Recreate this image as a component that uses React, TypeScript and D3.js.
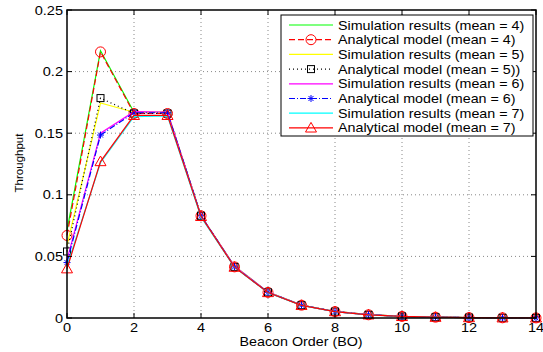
import React, { useEffect, useRef } from 'react';
import * as d3 from 'd3';

// Beacon order values on the x axis
const beaconOrders = [0, 1, 2, 3, 4, 5, 6, 7, 8, 9, 10, 11, 12, 13, 14];
const xTicks = [0, 2, 4, 6, 8, 10, 12, 14];
const yTicks = [0, 0.05, 0.1, 0.15, 0.2, 0.25];

// throughput per series
const sim4 = [0.071, 0.217, 0.167, 0.167, 0.083, 0.042, 0.021, 0.0105, 0.0053, 0.0027, 0.0013, 0.0007, 0.0003, 0.00017, 0.00008];
const ana4 = [0.067, 0.216, 0.166, 0.166, 0.083, 0.0415, 0.0208, 0.0104, 0.0052, 0.0026, 0.0013, 0.00065, 0.00033, 0.00016, 0.00008];
const sim5 = [0.059, 0.1745, 0.167, 0.167, 0.083, 0.042, 0.021, 0.0105, 0.0053, 0.0027, 0.0013, 0.0007, 0.0003, 0.00017, 0.00008];
const ana5 = [0.054, 0.1785, 0.166, 0.166, 0.083, 0.0415, 0.0208, 0.0104, 0.0052, 0.0026, 0.0013, 0.00065, 0.00033, 0.00016, 0.00008];
const sim6 = [0.047, 0.15, 0.1675, 0.1672, 0.083, 0.042, 0.021, 0.0105, 0.0053, 0.0027, 0.0013, 0.0007, 0.0003, 0.00017, 0.00008];
const ana6 = [0.045, 0.1485, 0.1666, 0.1666, 0.083, 0.0415, 0.0208, 0.0104, 0.0052, 0.0026, 0.0013, 0.00065, 0.00033, 0.00016, 0.00008];
const sim7 = [0.042, 0.126, 0.1635, 0.164, 0.082, 0.0412, 0.0206, 0.0103, 0.0052, 0.0026, 0.0013, 0.00065, 0.00033, 0.00016, 0.00008];
const ana7 = [0.04, 0.127, 0.1645, 0.1645, 0.0825, 0.0413, 0.0207, 0.0103, 0.0052, 0.0026, 0.0013, 0.00065, 0.00033, 0.00016, 0.00008];

const seriesLabels = [
  'Simulation results (mean = 4)',
  'Analytical model (mean = 4)',
  'Simulation results (mean = 5)',
  'Analytical model (mean = 5))',
  'Simulation results (mean = 6)',
  'Analytical model (mean = 6)',
  'Simulation results (mean = 7)',
  'Analytical model (mean = 7)',
];

const series = [
  { values: sim4, color: '#00ff00', dash: null, marker: null },
  { values: ana4, color: '#ff0000', dash: '6,3', marker: 'circle' },
  { values: sim5, color: '#ffff00', dash: null, marker: null },
  { values: ana5, color: '#000000', dash: '1,3', marker: 'square' },
  { values: sim6, color: '#ff00ff', dash: null, marker: null },
  { values: ana6, color: '#0000ff', dash: '6,2,1,2', marker: 'star' },
  { values: sim7, color: '#00ffff', dash: null, marker: null },
  { values: ana7, color: '#ff0000', dash: null, marker: 'triangle' },
];

const FONT = 'Liberation Sans, Arial, sans-serif';

function drawMarker(g, kind, x, y, color) {
  if (kind === 'circle') {
    g.append('circle').attr('cx', x).attr('cy', y).attr('r', 5)
      .attr('fill', 'none').attr('stroke', color).attr('stroke-width', 1);
  } else if (kind === 'square') {
    g.append('rect').attr('x', x - 3.5).attr('y', y - 3.5).attr('width', 7).attr('height', 7)
      .attr('fill', 'none').attr('stroke', color).attr('stroke-width', 1);
  } else if (kind === 'star') {
    const r = 3.5, d = r * 0.72;
    g.append('path')
      .attr('d', `M${x - r},${y}H${x + r}M${x},${y - r}V${y + r}M${x - d},${y - d}L${x + d},${y + d}M${x - d},${y + d}L${x + d},${y - d}`)
      .attr('stroke', color).attr('stroke-width', 1).attr('fill', 'none');
  } else if (kind === 'triangle') {
    const s = 5.5;
    g.append('path')
      .attr('d', `M${x},${y - s}L${x + s},${y + s * 0.75}L${x - s},${y + s * 0.75}Z`)
      .attr('fill', 'none').attr('stroke', color).attr('stroke-width', 1);
  }
}

const App = () => {
  const svgRef = useRef();

  useEffect(() => {
    document.body.style.margin = '0';
    const svg = d3.select(svgRef.current);
    svg.selectAll('*').remove();

    const left = 67, right = 536, top = 10, bottom = 318;

    const xScale = d3.scaleLinear().domain([0, 14]).range([left, right]);
    const yScale = d3.scaleLinear().domain([0, 0.25]).range([bottom, top]);

    svg.append('rect').attr('width', 543).attr('height', 352).attr('fill', '#fff');

    // grid
    const grid = svg.append('g').attr('stroke', '#888').attr('stroke-width', 1)
      .attr('stroke-dasharray', '1,3');
    xTicks.slice(1, -1).forEach(t => {
      grid.append('line').attr('x1', xScale(t)).attr('x2', xScale(t)).attr('y1', top).attr('y2', bottom);
    });
    yTicks.slice(1, -1).forEach(t => {
      grid.append('line').attr('x1', left).attr('x2', right).attr('y1', yScale(t)).attr('y2', yScale(t));
    });

    // series lines
    const line = d3.line().x((d, i) => xScale(beaconOrders[i])).y(d => yScale(d));
    series.forEach(s => {
      svg.append('path').datum(s.values).attr('d', line)
        .attr('fill', 'none').attr('stroke', s.color).attr('stroke-width', 1.2)
        .attr('stroke-dasharray', s.dash);
      if (s.marker) {
        const mg = svg.append('g');
        s.values.forEach((v, i) => drawMarker(mg, s.marker, xScale(beaconOrders[i]), yScale(v), s.color));
      }
    });

    // axes box + inward ticks
    svg.append('rect').attr('x', left).attr('y', top).attr('width', right - left).attr('height', bottom - top)
      .attr('fill', 'none').attr('stroke', '#000').attr('stroke-width', 1.5);
    const ticks = svg.append('g').attr('stroke', '#000').attr('stroke-width', 1);
    xTicks.forEach(t => {
      ticks.append('line').attr('x1', xScale(t)).attr('x2', xScale(t)).attr('y1', bottom).attr('y2', bottom - 5);
      ticks.append('line').attr('x1', xScale(t)).attr('x2', xScale(t)).attr('y1', top).attr('y2', top + 5);
    });
    yTicks.forEach(t => {
      ticks.append('line').attr('x1', left).attr('x2', left + 5).attr('y1', yScale(t)).attr('y2', yScale(t));
      ticks.append('line').attr('x1', right).attr('x2', right - 5).attr('y1', yScale(t)).attr('y2', yScale(t));
    });

    // tick labels (slightly wide, like the original)
    svg.append('g').selectAll('text').data(xTicks).enter().append('text')
      .attr('transform', d => `translate(${xScale(d)},${bottom + 14}) scale(1.12,1)`)
      .attr('text-anchor', 'middle')
      .attr('font-family', FONT).attr('font-size', 13).text(d => d);
    svg.append('g').selectAll('text').data(yTicks).enter().append('text')
      .attr('transform', d => `translate(${left - 4},${yScale(d) + 4.5}) scale(1.12,1)`)
      .attr('text-anchor', 'end')
      .attr('font-family', FONT).attr('font-size', 13).text(d => d);

    // axis titles
    svg.append('text').attr('transform', `translate(301,346) scale(1.1,1)`).attr('text-anchor', 'middle')
      .attr('font-family', FONT).attr('font-size', 13).text('Beacon Order (BO)');
    svg.append('text').attr('transform', `translate(23,163) rotate(-90)`)
      .attr('text-anchor', 'middle').attr('font-family', FONT).attr('font-size', 11.5).text('Throughput');

    // legend
    const lg = svg.append('g');
    lg.append('rect').attr('x', 281).attr('y', 15).attr('width', 252).attr('height', 121)
      .attr('fill', '#fff').attr('stroke', '#000').attr('stroke-width', 1);
    series.forEach((s, i) => {
      const y = 25 + i * 14.7;
      lg.append('line').attr('x1', 289).attr('x2', 333).attr('y1', y).attr('y2', y)
        .attr('stroke', s.color).attr('stroke-width', 1.2).attr('stroke-dasharray', s.dash);
      if (s.marker) drawMarker(lg, s.marker, 311, y, s.color);
      lg.append('text').attr('transform', `translate(338,${y + 4.5}) scale(1.1,1)`)
        .attr('font-family', FONT).attr('font-size', 13)
        .text(seriesLabels[i]);
    });
  }, []);

  return (
    <div className="throughput-chart">
      <svg ref={svgRef} width={543} height={352}></svg>
    </div>
  );
};

export default App;
